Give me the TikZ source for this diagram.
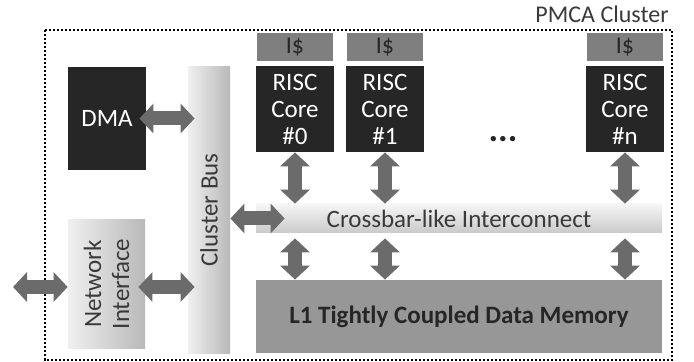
\documentclass[tikz,border=0pt]{standalone}
\usepackage{fontspec}
\setmainfont{Carlito}
\usetikzlibrary{positioning,arrows.meta}

\definecolor{corefill}{HTML}{262626}
\definecolor{cachefill}{HTML}{7F7F7F}
\definecolor{memfill}{HTML}{979797}
\definecolor{arrowgray}{HTML}{6B6B6B}
\definecolor{textgray}{HTML}{3A3A3A}

\tikzset{
  core/.style={fill=corefill, text=white, minimum width=39pt, minimum height=43pt,
    align=center, inner sep=0pt, font=\fontsize{12.5}{13.5}\selectfont},
  cache/.style={fill=cachefill, text=corefill, minimum width=38pt, minimum height=14pt,
    inner sep=0pt, font=\fontsize{12}{12}\selectfont},
  vbar/.style={left color=gray!12, right color=gray!55, text=textgray, inner sep=0pt,
    align=center, font=\fontsize{12.5}{14}\selectfont},
  fatarrow/.style={draw=arrowgray, line width=7pt,
    arrows={Triangle[length=7pt,width=14.5pt]-Triangle[length=7pt,width=14.5pt]}}
}

\begin{document}
\begin{tikzpicture}[x=0.5pt,y=-0.5pt]
  \useasboundingbox (0,0) rectangle (694,362);

  % cluster border
  \draw[line width=1.2pt, dash pattern=on 1.2pt off 0.8pt] (45,30) rectangle (672,360);
  \node[anchor=south east, inner sep=0pt, text=textgray, font=\fontsize{12}{12}\selectfont] (title) at (669,23) {PMCA Cluster};

  % cores with their caches
  \node[core] (core0) at (295,109) {RISC\\Core\\\#0};
  \node[core] (core1) at (385,109) {RISC\\Core\\\#1};
  \node[core] (coren) at (625,109) {RISC\\Core\\\#n};
  \foreach \c in {core0,core1,coren}
    \node[cache, above=2pt of \c] (cache-\c) {I\$};
  \node[anchor=base, font=\fontsize{18}{18}\bfseries, text=corefill] (dots) at (503,142) {...};

  \node[fill=corefill, text=white, minimum width=39pt, minimum height=51.5pt,
    font=\fontsize{12.5}{13}\selectfont] (dma) at (107,118.5) {DMA};

  \node[vbar, rotate=90, minimum width=143pt, minimum height=21pt] (bus) at (209,210) {Cluster Bus};
  \node[vbar, rotate=90, minimum width=64pt, minimum height=38.5pt] (ni) at (106.5,284) {Network\\Interface};

  \node[top color=gray!7, bottom color=gray!42, text=textgray, minimum width=203pt,
    minimum height=14.5pt, inner sep=0pt, font=\fontsize{12.5}{13}\selectfont] (xbar) at (459,218.5) {Crossbar-like Interconnect};
  \node[fill=memfill, text=corefill, minimum width=203pt, minimum height=36.5pt,
    font=\fontsize{12.5}{13}\bfseries] (mem) at (459,316.5) {L1 Tightly Coupled Data Memory};

  \coordinate (ext) at (13,287);

  % connections
  \draw[fatarrow, shorten <=-3.5pt, shorten >=-3.5pt] (dma.east) -- (dma.east -| bus.north);
  \draw[fatarrow] (ext) -- (ext -| ni.north);
  \draw[fatarrow, shorten <=-3.5pt, shorten >=-3.5pt] (ext -| ni.south) -- (ext -| bus.north);
  \draw[fatarrow, shorten >=-14.5pt] (bus.south |- xbar) -- (xbar.west);
  \foreach \c in {core0,core1,coren} {
    \draw[fatarrow] (\c.south) -- (\c.south |- xbar.north);
    \draw[fatarrow, shorten <=2.5pt] (\c.south |- xbar.south) -- (\c.south |- mem.north);
  }
\end{tikzpicture}
\end{document}
